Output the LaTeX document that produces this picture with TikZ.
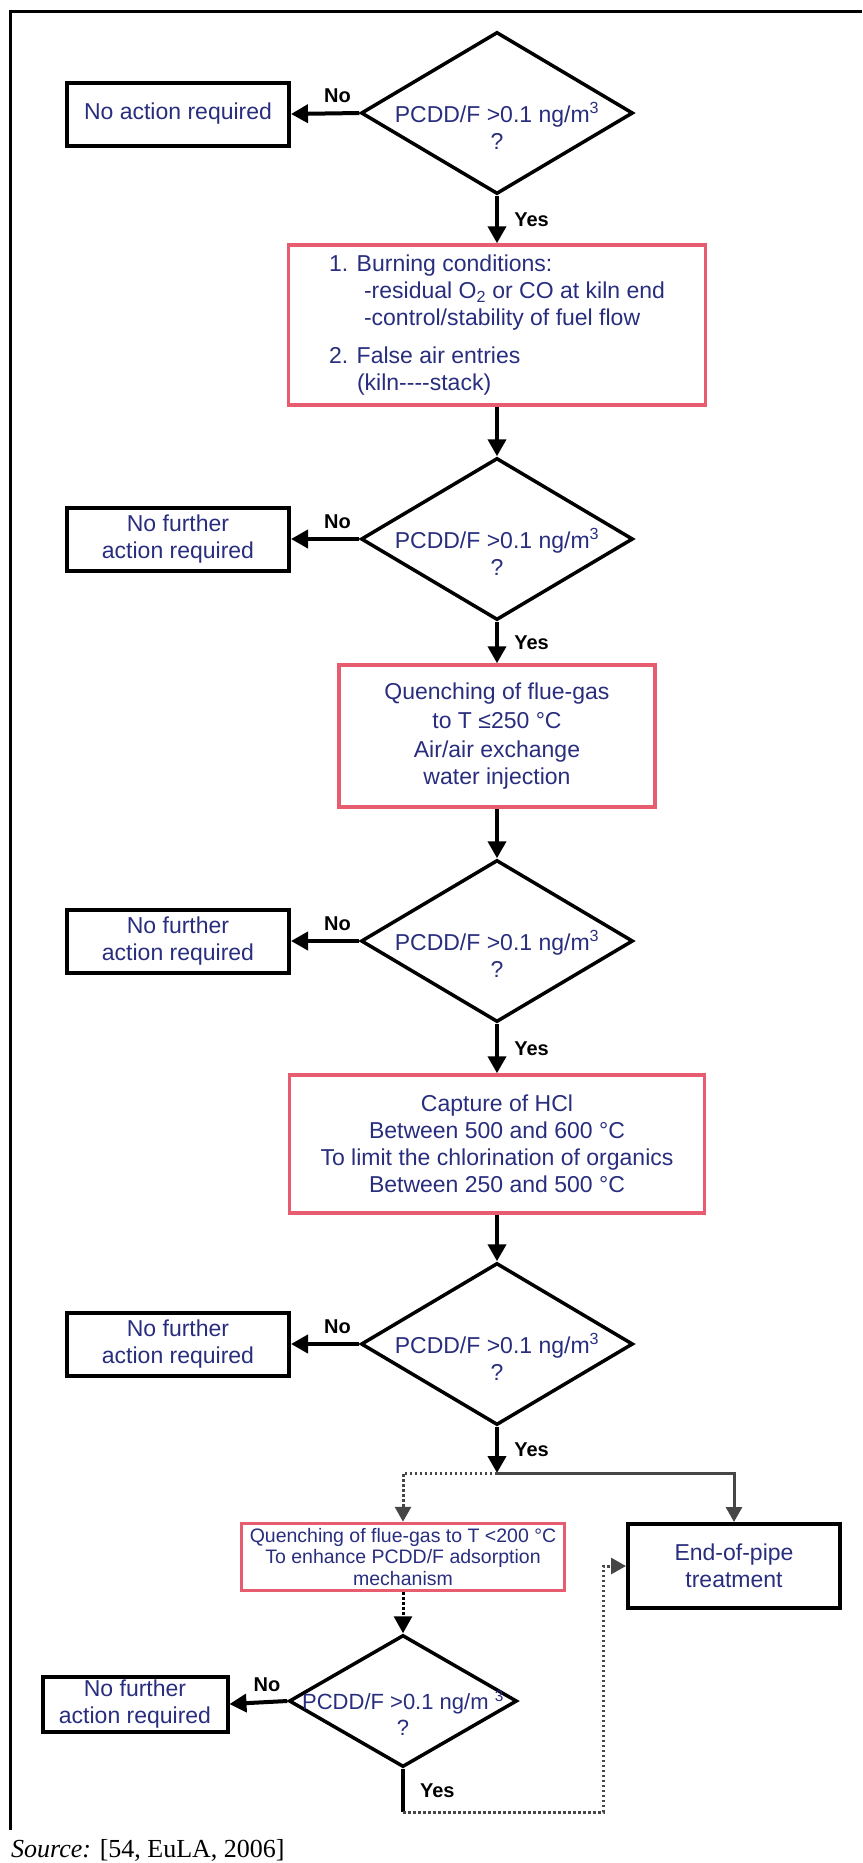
\documentclass[tikz,border=0pt]{standalone}
\usepackage{fontspec}
\setmainfont{Liberation Serif}
\setsansfont{Liberation Sans}
\usetikzlibrary{shapes.geometric,arrows.meta}

\definecolor{textblue}{RGB}{40,45,125}
\definecolor{boxred}{RGB}{232,92,112}
\definecolor{linkgray}{RGB}{70,70,70}

\begin{document}
\begin{tikzpicture}[x=1pt,y=-1pt,
  decision/.style={diamond,draw,line width=3.5pt,minimum width=272pt,minimum height=162pt,inner sep=0pt},
  qtext/.style={font=\sffamily\fontsize{23}{27}\selectfont,text=textblue,align=center},
  endbox/.style={draw,line width=4pt,minimum width=222pt,minimum height=63pt,inner sep=0pt,
    align=center,font=\sffamily\fontsize{23}{27}\selectfont,text=textblue},
  measure/.style={draw=boxred,line width=3.5pt,inner sep=0pt,align=center,
    font=\sffamily\fontsize{23}{27}\selectfont,text=textblue},
  flow/.style={line width=4pt,-{Triangle[length=17pt,width=18pt]}},
  lbl/.style={font=\sffamily\bfseries\fontsize{20}{22}\selectfont},
  branch/.style={linkgray,line width=3pt,-{Triangle[length=15pt,width=16pt]}},
  dotlink/.style={linkgray,line width=3pt,dash pattern=on 2.5pt off 2.5pt,-{Triangle[length=15pt,width=16pt]}}]

  \useasboundingbox (0,0) rectangle (862,1863);

  %% ---- Frame (cut at right and bottom) ----
  \draw[line width=3pt] (10,1830) -- (10,11) -- (862,11);

  %% ---- Main column: four checks ----
  \foreach \i/\y in {1/113, 2/539, 3/941, 4/1344} {
    \node[decision] (d\i) at (497,\y) {};
    \node[qtext] (q\i) at ([yshift=-13pt]d\i.center) {PCDD/F >0.1 ng/m\textsuperscript{3}\\?};
  }

  % No-branch boxes
  \node[endbox] (n1) at (178,114) {No action required};
  \foreach \i/\y in {2/539, 3/941, 4/1344} {
    \node[endbox] (n\i) at (178,\y) {No further\\action required};
  }
  \foreach \i in {1,...,4} {
    \draw[flow] (d\i.west) -- node[lbl,above=5pt,pos=0.32] (no\i) {No} (n\i.east);
  }

  % Measures
  \node[measure,minimum width=417pt,minimum height=160pt,align=left] (b1) at (497,325)
    {1. Burning conditions:\\
     \hspace*{35pt}-residual O\textsubscript{2} or CO at kiln end\\
     \hspace*{35pt}-control/stability of fuel flow\\[11pt]
     2. False air entries\\
     \hspace*{28pt}(kiln-{}-{}-{}-stack)};
  \node[measure,minimum width=316pt,minimum height=142pt] (b2) at (497,736)
    {Quenching of flue-gas\\[2pt] to T ≤250 °C\\[2pt] Air/air exchange\\ water injection};
  \node[measure,minimum width=415pt,minimum height=138pt] (b3) at (497,1144)
    {Capture of HCl\\ Between 500 and 600 °C\\ To limit the chlorination of organics\\ Between 250 and 500 °C};

  \draw[flow] (d1.south) -- node[lbl,right=12pt] (yes1) {Yes} (b1.north);
  \draw[flow] (b1.south) -- (d2.north);
  \draw[flow] (d2.south) -- node[lbl,right=12pt] (yes2) {Yes} (b2.north);
  \draw[flow] (b2.south) -- (d3.north);
  \draw[flow] (d3.south) -- node[lbl,right=12pt] (yes3) {Yes} (b3.north);
  \draw[flow] (b3.south) -- (d4.north);

  %% ---- Lower part: two options ----
  \coordinate (split) at (497,1473);
  \draw[flow] (d4.south) -- node[lbl,right=12pt] (yes4) {Yes} (split);

  \node[measure,minimum width=323pt,minimum height=67pt,
    font=\sffamily\fontsize{19.5}{21.5}\selectfont] (b4) at (403,1557)
    {Quenching of flue-gas to T <200 °C\\ To enhance PCDD/F adsorption\\ mechanism};
  \node[endbox,minimum width=212pt,minimum height=84pt] (e) at (734,1566) {End-of-pipe\\treatment};

  \draw[branch] (split) -| (e.north);
  \draw[dotlink] (split) -| (b4.north);

  % last check
  \node[decision,minimum width=228pt,minimum height=132pt] (d5) at (403,1701) {};
  \node[qtext,font=\sffamily\fontsize{22}{26}\selectfont] (q5) at ([yshift=-12pt]d5.center)
    {PCDD/F >0.1 ng/m \textsuperscript{3}\\?};
  \draw[dotlink,black,-{Triangle[length=17pt,width=18pt]}] (b4.south) -- (d5.north);

  \node[endbox,minimum width=185pt,minimum height=55pt] (n5) at (135,1704) {No further\\action required};
  \draw[flow] (d5.west) -- node[lbl,above=5pt,pos=0.35] (no5) {No} (n5.east);

  \coordinate (ret1) at (403,1812);
  \coordinate (ret2) at (603,1812);
  \draw[line width=3.5pt] (d5.south) -- node[lbl,right=12pt] (yes5) {Yes} (ret1);
  \draw[dotlink] (ret1) -- (ret2) |- (e.west);

  %% ---- Source ----
  \node[anchor=base west,inner sep=0pt,font=\fontsize{26}{28}\selectfont] (src) at (11,1857)
    {\textit{Source:} [54, EuLA, 2006]};

\end{tikzpicture}
\end{document}
